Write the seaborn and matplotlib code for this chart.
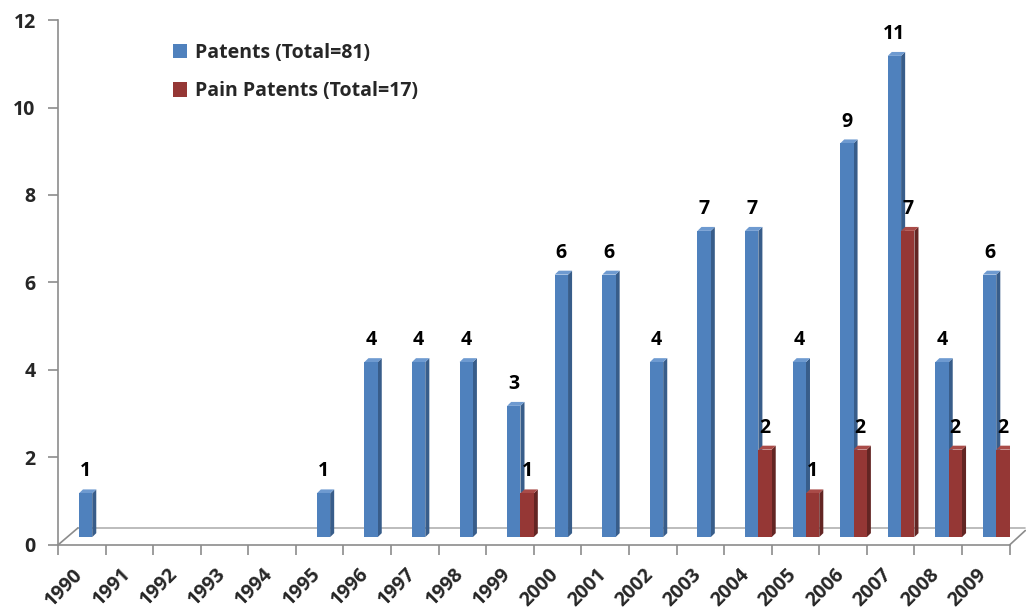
import matplotlib
matplotlib.use("Agg")
import matplotlib.pyplot as plt
import matplotlib.transforms as mtransforms
import seaborn as sns
import pandas as pd
from matplotlib.patches import Polygon, Patch

years = [str(y) for y in range(1990, 2010)]
patents = [1, 0, 0, 0, 0, 1, 4, 4, 4, 3, 6, 6, 4, 7, 7, 4, 9, 11, 4, 6]
pain = [0, 0, 0, 0, 0, 0, 0, 0, 0, 1, 0, 0, 0, 0, 2, 1, 2, 7, 2, 2]
series = ["Patents (Total=81)", "Pain Patents (Total=17)"]
colors = ["#4F81BD", "#953735"]
side_colors = ["#385D8A", "#632523"]
top_colors = ["#6E9AD0", "#A94B48"]

df = pd.DataFrame({
    "Year": years * 2,
    "Count": patents + pain,
    "Series": [series[0]] * len(years) + [series[1]] * len(years),
})

sns.set_theme(style="white")
plt.rcParams['font.family'] = ['Open Sans', 'DejaVu Sans']
plt.rcParams['font.weight'] = 'bold'

fs = 14

fig = plt.figure(figsize=(10.26, 6.10), dpi=100)
ax = fig.add_axes([0.0565, 0.1066, 0.9275, 0.8606])
sns.barplot(data=df, x="Year", y="Count", hue="Series", order=years,
            hue_order=series, palette=colors, width=0.56, saturation=1,
            ax=ax, legend=False, linewidth=0)

shift = 0.22
base = 0.18
dx = 0.085
dy = 0.09
for i, cont in enumerate(ax.containers):
    vals = patents if i == 0 else pain
    z = 2 + 2 * i
    for bar, v in zip(cont, vals):
        bar.set_x(bar.get_x() + shift)
        bar.set_y(base)
        bar.set_zorder(z + 0.5)
        if v == 0:
            bar.set_visible(False)
            continue
        x0 = bar.get_x()
        x1 = x0 + bar.get_width()
        y1 = base + bar.get_height()
        ax.add_patch(Polygon([(x1, base), (x1 + dx, base + dy), (x1 + dx, y1 + dy), (x1, y1)],
                             closed=True, facecolor=side_colors[i], edgecolor='none', zorder=z))
        ax.add_patch(Polygon([(x0, y1), (x1, y1), (x1 + dx, y1 + dy), (x0 + dx, y1 + dy)],
                             closed=True, facecolor=top_colors[i], edgecolor='none', zorder=z))
        ax.text((x0 + x1) / 2, y1 + 0.5, str(v), ha='center', va='center',
                fontsize=fs, fontweight='bold', color='black', zorder=6)

ax.set_xlim(-0.5, 19.5)
ax.set_ylim(0, 12)
ax.set_yticks(range(0, 13, 2))
ax.set_xlabel("")
ax.set_ylabel("")

grey = "#8C8C8C"
# floor of the 3D plot
ax.plot([-0.08, 19.83], [0.39, 0.39], color="#B0B0B0", lw=1.2, zorder=1, clip_on=False)
ax.plot([-0.5, -0.08], [0, 0.39], color=grey, lw=1.2, zorder=1, clip_on=False)
ax.plot([19.5, 19.83], [0, 0.33], color=grey, lw=1.2, zorder=1, clip_on=False)

for s in ["top", "right"]:
    ax.spines[s].set_visible(False)
for s in ["left", "bottom"]:
    ax.spines[s].set_color(grey)
    ax.spines[s].set_linewidth(1.2)

ax.set_xticks([i - 0.5 for i in range(21)], minor=True)
ax.tick_params(axis='x', which='minor', length=7, color=grey, width=1.2, direction='out', bottom=True)
ax.tick_params(axis='x', which='major', length=0, pad=14)
ax.tick_params(axis='y', length=7, color=grey, width=1.2, direction='out', left=True, pad=9)
ax.set_xticks(range(len(years)))
ax.set_xticklabels(years, rotation=45, ha='right', rotation_mode='anchor',
                   fontsize=fs, fontweight='bold')
offset = mtransforms.ScaledTranslation(-9 / 100, 0, fig.dpi_scale_trans)
for lab in ax.xaxis.get_majorticklabels():
    lab.set_transform(lab.get_transform() + offset)
for lab in ax.get_yticklabels():
    lab.set_fontsize(fs)
    lab.set_fontweight('bold')

handles = [Patch(facecolor=c, edgecolor='none') for c in colors]
ax.legend(handles, series, loc='upper left', bbox_to_anchor=(0.102, 0.99), frameon=False,
          prop={'size': fs, 'weight': 'bold'}, handlelength=0.75, handleheight=0.75,
          handletextpad=0.4, labelspacing=0.95)

fig.savefig("out.png", dpi=100)
